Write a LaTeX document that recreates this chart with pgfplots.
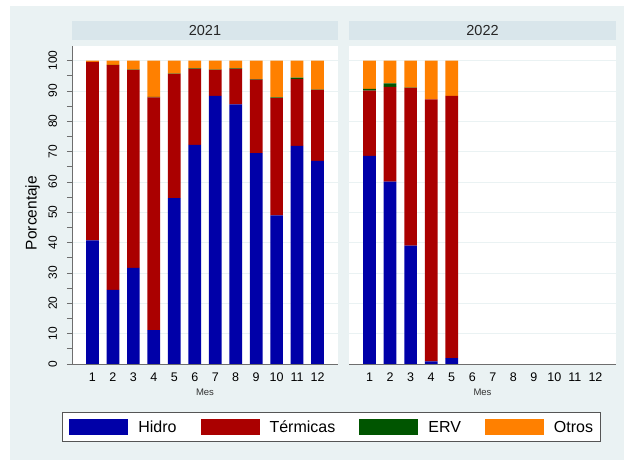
\documentclass[border=0pt]{standalone}
\usepackage{fontspec}
\setmainfont{Liberation Sans}
\usepackage{graphicx}
\usepackage{pgfplots}
\pgfplotsset{compat=1.18}
\usepackage{pgfplotstable}
\definecolor{hidro}{RGB}{0,0,168}
\definecolor{term}{RGB}{170,0,0}
\definecolor{erv}{RGB}{0,85,0}
\definecolor{otros}{RGB}{255,128,0}
\definecolor{bgc}{RGB}{234,242,243}
\definecolor{hdr}{RGB}{217,230,235}
\definecolor{gridc}{RGB}{234,242,243}
\definecolor{axc}{RGB}{110,110,110}
\definecolor{legc}{RGB}{85,85,85}

\pgfplotstableread{
m H T E O
1 40.7 58.9 0.0 0.4
2 24.4 74.1 0.1 1.4
3 31.7 65.2 0.1 3.0
4 11.2 76.7 0.1 12.0
5 54.7 40.9 0.1 4.3
6 72.2 25.1 0.1 2.6
7 88.4 8.5 0.1 3.0
8 85.6 11.7 0.1 2.6
9 69.5 24.2 0.2 6.1
10 49.0 38.6 0.3 12.1
11 71.9 22.0 0.5 5.6
12 66.9 23.4 0.1 9.6
}\datA
\pgfplotstableread{
m H T E O
1 68.6 21.5 0.6 9.3
2 60.1 31.2 1.2 7.5
3 39.0 52.0 0.1 8.9
4 0.9 86.3 0.0 12.8
5 1.9 86.5 0.0 11.6
}\datB

\pgfplotsset{
  panel/.style={
    scale only axis, height=318pt,
    xmin=0, xmax=13, ymin=0, ymax=104.8,
    ybar stacked, bar width=12.7pt,
    axis background/.style={fill=white},
    axis lines*=left, axis line style={-, color=axc, line width=0.8pt},
    xtick={1,...,12}, ytick={0,10,...,100}, minor ytick={5,15,...,95},
    tick align=outside, major tick length=5pt, minor tick length=5pt,
    xtick style={draw=none},
    ytick style={color=axc, line width=0.8pt},
    minor y tick style={color=axc, line width=0.8pt},
    ymajorgrids, major grid style={color=gridc, line width=0.8pt},
    /pgf/number format/assume math mode=true,
    xticklabel style={font=\fontsize{12.5}{14}\selectfont, text=black},
    xlabel={Mes},
    xlabel style={at={(axis description cs:0.5,-0.088)}, anchor=center, font=\fontsize{9.5}{11}\selectfont, text=black!80},
    title style={at={(0.5,1)}, anchor=south, fill=hdr, minimum height=19pt, inner sep=0pt, font=\fontsize{14.5}{16}\selectfont, text=black!85},
  }
}

\begin{document}
\begin{tikzpicture}
\fill[white] (0pt,0pt) rectangle (624pt,460pt);
\fill[bgc] (10pt,0pt) rectangle (624pt,454pt);

\begin{axis}[panel, at={(72pt,96pt)}, anchor=south west, width=266pt,
  title={2021}, title style={minimum width=266pt},
  yticklabel={\rotatebox{90}{\fontsize{12}{14}\selectfont\pgfmathprintnumber{\tick}}},
  yticklabel style={anchor=east, inner sep=0pt, xshift=-9.7pt, text=black},
  ylabel={Porcentaje},
  ylabel style={at={(axis description cs:-0.1485,0.4748)}, anchor=center, font=\fontsize{15.5}{17}\selectfont, text=black},
  legend style={at={(0.9744,-0.198)}, anchor=center, legend columns=4,
    draw=legc, line width=0.8pt, fill=white, inner xsep=7pt, inner ysep=6.1pt,
    font=\fontsize{16}{18}\selectfont,
    nodes={inner sep=0pt},
    /tikz/every odd column/.append style={column sep=10pt},
    /tikz/every even column/.append style={column sep=24pt}},
  legend image code/.code={\fill[#1] (0pt,-7.6pt) rectangle (59pt,8.4pt);},
]
\addplot[fill=hidro, draw=none] table[x=m,y=H]{\datA};
\addplot[fill=term, draw=none] table[x=m,y=T]{\datA};
\addplot[fill=erv, draw=none] table[x=m,y=E]{\datA};
\addplot[fill=otros, draw=none] table[x=m,y=O]{\datA};
\legend{Hidro,Térmicas,ERV,Otros}
\end{axis}

\begin{axis}[panel, at={(349pt,96pt)}, anchor=south west, width=267pt,
  title={2022}, title style={minimum width=267pt},
  y axis line style={draw=none}, ytick style={draw=none}, minor y tick style={draw=none},
  yticklabels={},
]
\addplot[fill=hidro, draw=none] table[x=m,y=H]{\datB};
\addplot[fill=term, draw=none] table[x=m,y=T]{\datB};
\addplot[fill=erv, draw=none] table[x=m,y=E]{\datB};
\addplot[fill=otros, draw=none] table[x=m,y=O]{\datB};
\end{axis}
\end{tikzpicture}
\end{document}
